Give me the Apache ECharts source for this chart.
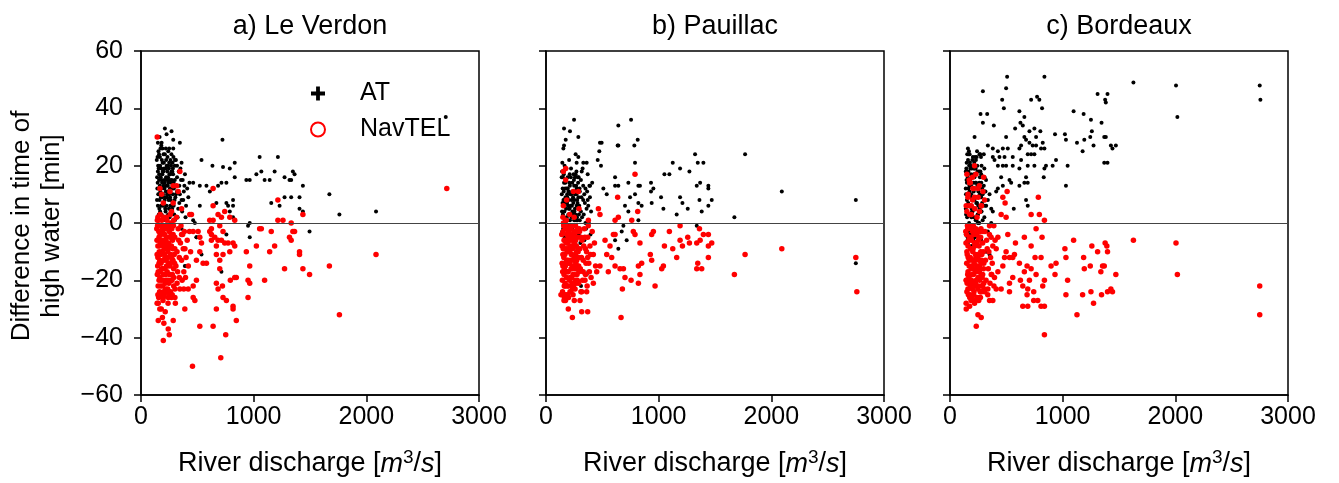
<!DOCTYPE html>
<html>
<head>
<meta charset="utf-8">
<script src="https://cdn.jsdelivr.net/npm/echarts@6.0.0/dist/echarts.min.js"></script>
<style>
html, body { margin: 0; padding: 0; background: #fff; }
#chart { width: 1339px; height: 483px; }
</style>
</head>
<body>
<div id="chart"></div>
<script>
// panel titles and axis ticks
var panelTitles = ['a) Le Verdon', 'b) Pauillac', 'c) Bordeaux'];
var xTicks = [0, 1000, 2000, 3000];
var yTicks = [-60, -40, -20, 0, 20, 40, 60];

// [river discharge m3/s, difference in time of high water min]
var atVerdon = [
  [212,33],[271,32],[227,31],[723,29],[286,29],[183,28],[345,28],[286,26],[250,26],[160,24],[1053,23],[1215,23],[537,22],[832,21],[301,22],
  [634,20],[728,19.5],[788,19],[1024,17],[1068,18],[1186,18],[1274,16],[1348,18],[1363,17],[935,15],[965,15],[1097,15],[1142,15],[1318,15],
  [1333,15],[832,16],[463,14],[522,13],[581,13],[611,11],[684,13],[714,14],[758,14],[1437,13],[1672,10],[1274,9],[1333,9],[1407,9],[1156,7],
  [1230,6],[1761,3],[2086,4],[1437,4],[1407,5],[522,6],[669,7],[758,7],[817,8],[773,6],[817,6],[788,4],[965,0],[950,-1],[1496,-3],[965,-5],
  [758,-4],[817,2],[463,1],[478,0],[492,-5],[537,-11],[714,-17],[404,-15],[198,-26],[2705,37],[360,-2],[493,-5],[389,-15],
  [140,22],[150,18],[160,15],[170,20],[180,12],[190,17],[200,24],[210,14],[220,19],[230,9],[240,16],[250,21],[260,11],[270,18],[280,7],
  [290,14],[300,20],[310,10],[320,16],[330,5],[340,13],[350,19],[360,8],[370,15],[380,11],[390,17],[400,6],[410,12],[420,9],[430,14],
  [145,12],[155,25],[165,8],[175,16],[185,22],[195,10],[205,19],[215,5],[225,13],[235,23],[245,8],[255,15],[265,4],[275,12],[285,17],
  [295,3],[305,9],[315,13],[325,2],[335,18],[345,10],[355,15],[365,4],[375,8],[385,13],[395,2],
  [150,6],[160,10],[170,4],[180,19],[190,26],[200,2],[210,8],[220,26],[230,15],[240,3],[250,10],[260,17],[270,24],[280,13],[290,6],
  [300,15],[310,22],[320,11],[340,7],[360,21],[150,28],[165,30],[180,27],[200,13],[220,11],[240,20],[260,6],[280,21],[300,1],[320,20],
  [142,8],[148,14],[152,20],[158,3],[162,17],[168,23],[172,11],[178,6],[182,15],[188,9],[192,21],[198,18],[202,7],[208,12],[212,24],
  [218,4],[222,16],[228,20],[232,10],[238,13],[242,25],[248,5],[252,17],[258,9],[262,22],[268,14],[272,3],[278,18],[282,10],[288,23],
  [292,12],[298,8],[143,16],[147,23],[153,10],[157,19],[163,5],[167,13],[173,26],[177,9],[183,3],[187,14],[193,18],[197,6],[203,21],
  [207,15],[213,9],[217,1],[223,22],[227,6],[233,18],[237,11],[243,14],[247,19],[253,2],[257,12],[263,8],[267,20],[273,15],[277,5],[283,19]
];
var navVerdon = [
  [2714,12],[2086,-11],[1761,-32],[1672,-15],[1437,-16],[1496,-18],[1274,-16],[1407,-10],[1407,-11],[1363,-3],[1348,-3],[1333,0],[1318,-5],
  [1333,-6],[1215,8],[1215,1],[1260,1],[1437,3],[1156,-3],[1186,-8],[1142,-10],[1024,-8],[935,-10],[1053,-2],[1068,-2],[965,-15],[950,-20],
  [965,-21],[1097,-20],[950,-26],[846,-19],[817,-29],[817,-30],[846,-34],[752,-39],[708,-47],[669,-30],[640,-36],[522,-36],[457,-50],[389,-30],
  [286,-34],[242,-37],[251,-39],[198,-41],[153,-34],[203,-35],[153,-28],[198,-26],[463,-26],[478,-27],[419,-23],[463,-22],[492,-20],[301,-23],
  [301,-26],[242,-26],[699,-16],[669,-21],[684,-23],[723,-22],[728,-26],[758,-27],[793,-20],[832,-19],[610,-3],[625,-4],[625,-6],[655,-5],
  [669,-11],[684,-6],[714,-6],[743,-7],[773,-7],[788,-10],[817,-7],[832,-8],[728,-11],[699,-13],[669,-8],[625,-2],[610,1],[640,1],[714,2],
  [743,4],[788,2],[832,1],[699,-1],[728,-3],[684,3],[640,6],[640,12],[433,3],[448,3],[463,-3],[507,-3],[522,-5],[537,-7],[522,-10],[492,-13],
  [581,-14],[551,-14],[345,18],[168,12],[183,10],[257,11],[330,11],[286,13],[316,13],[198,7],[286,7],[271,4],[360,5],[144,30],
  [140,-2],[150,-8],[160,-14],[170,-4],[180,-20],[190,-10],[200,-1],[210,-16],[220,-6],[230,-24],[240,-12],[250,-3],[260,-18],[270,-8],
  [280,-13],[290,-22],[300,-5],[310,-15],[320,-10],[330,-2],[340,-19],[350,-7],[360,-13],[370,-4],[380,-17],[390,-9],[400,-12],[410,-6],
  [420,-15],[430,-3],[440,-10],[145,-18],[155,1],[165,-24],[175,-11],[185,-6],[195,-27],[205,-9],[215,-21],[225,-2],[235,-15],[245,-7],
  [255,-25],[265,-1],[275,-20],[285,-4],[295,-11],[305,-28],[315,2],[325,-17],[335,-6],[345,-23],[355,-1],[365,-20],[375,-9],[385,-3],
  [395,-19],[150,-12],[160,-5],[170,-17],[180,-1],[190,-22],[200,-13],[210,-4],[220,-18],[230,-8],[240,-20],[250,-14],[260,-2],[270,-26],
  [280,-6],[290,-16],[300,-9],[320,-21],[340,-12],[360,-4],[380,-23],[150,2],[170,3],[200,2],[230,1],[260,3],[290,1],[160,-20],[200,-24],
  [240,-28],[180,-30],[150,-25],
  [142,-6],[148,-15],[152,-22],[158,-3],[162,-10],[168,-19],[172,-7],[178,-14],[182,-25],[188,-2],[192,-16],[198,-8],[202,-20],[208,-11],
  [212,-1],[218,-23],[222,-13],[228,-5],[232,-17],[238,-10],[242,-2],[248,-21],[252,-8],[258,-15],[262,-24],[268,-4],[272,-12],[278,-18],
  [282,-9],[288,-1],[292,-19],[298,-14],[143,-11],[147,-1],[153,-17],[157,-26],[163,-8],[167,-13],[173,-22],[177,-4],[183,-16],[187,-10],
  [193,-3],[197,-18],[203,-6],[207,-25],[213,-12],[217,-7],[223,-20],[227,-15],[233,-1],[237,-23],[243,-9],[247,-14],[253,-18],[257,-5],
  [263,-11],[267,-20],[273,-2],[277,-25],[283,-13],[143,-28],[167,-30],[190,-33],[215,-31],[145,1],[185,1],[225,2],[265,0]
];
var atPauillac = [
  [249,36],[755,36],[160,33],[213,32],[642,34],[287,30],[814,29],[784,27],[642,27],[175,29],[160,27],[154,26],[479,28],[494,28],[473,25],
  [263,24],[287,23],[1767,24],[1323,24],[459,22],[488,20],[272,21],[331,21],[361,21],[145,21],[790,21],[1125,21],[1347,21],[1397,21],
  [1190,19],[1273,18],[1051,17],[1095,17],[317,18],[613,16],[257,16],[139,16],[932,14],[953,12],[932,11],[1338,13],[1368,14],[1441,13],
  [1441,12],[2093,11],[2750,8],[1190,9],[1211,7],[1258,5],[1362,8],[1471,8],[1441,6],[1382,4],[1021,9],[938,7],[1042,5],[1160,3],[1672,2],
  [1338,-1],[2750,-14],[636,27],[391,13],[509,12],[539,10],[613,13],[642,13],[731,14],[746,9],[790,10],[820,13],[834,13],[701,6],[820,7],
  [849,6],[731,4],[820,1],[687,-1],[672,-3],[716,-6],[642,-9],[613,-6],[311,-22],[376,-17],[361,-18],
  [140,10],[150,3],[160,14],[170,7],[180,19],[190,1],[200,11],[210,5],[220,16],[230,-2],[240,9],[250,13],[260,3],[270,18],[280,7],
  [290,-4],[300,11],[310,15],[320,2],[330,8],[340,-6],[350,12],[360,5],[370,17],[380,0],[390,9],[400,4],[410,14],
  [145,-3],[155,8],[165,20],[175,0],[185,12],[195,6],[205,22],[215,-5],[225,10],[235,4],[245,17],[255,-1],[265,11],[275,2],[285,14],
  [295,6],[305,-7],[315,9],[325,19],[335,3],[345,7],[355,-2],[365,11],[375,6],[385,13],[395,-4],
  [150,16],[170,12],[190,9],[210,17],[230,6],[250,1],[270,10],[290,16],[310,4],[330,13],[350,0],[370,8],[150,-8],[180,-6],[220,-9],
  [260,-7],[300,1],[340,10],
  [142,4],[148,12],[152,-2],[158,17],[162,8],[168,1],[172,14],[178,5],[182,-4],[188,10],[192,16],[198,3],[202,8],[208,-1],[212,13],
  [218,6],[222,19],[228,2],[232,11],[238,-6],[242,7],[248,15],[252,4],[258,10],[262,-3],[268,13],[272,6],[278,1],[282,16],[288,9],
  [292,3],[298,12],[143,18],[147,7],[153,0],[157,11],[163,4],[167,-5],[173,9],[177,15],[183,2],[187,7],[193,12],[197,-2],[203,5],
  [207,14],[213,1],[217,10],[223,-4],[227,8],[233,14],[237,3],[243,11],[247,-1],[253,8],[257,5],[263,17],[267,1],[273,12],[277,8]
];
var navPauillac = [
  [2759,-24],[2750,-12],[2093,-9],[1767,-11],[1672,-18],[1441,-4],[1471,-7],[1441,-8],[1441,-12],[1397,-4],[1362,-2],[1368,-6],[1338,-7],
  [1347,-14],[1338,-16],[1382,-16],[1258,-5],[1273,-7],[1190,-6],[1211,-8],[1160,-12],[1125,-9],[1095,-3],[1190,-1],[1051,-8],[1027,-16],
  [1042,-15],[968,-22],[938,-13],[926,-11],[953,-3],[938,-4],[849,-14],[820,-15],[834,-18],[820,-21],[755,-20],[701,-19],[678,-23],[666,-33],
  [687,-16],[657,-16],[613,-15],[583,-12],[568,-8],[613,-4],[598,-4],[775,-3],[790,-4],[834,-7],[790,17],[636,9],[814,4],[761,1],[613,1],
  [642,2],[287,11],[293,5],[376,1],[465,5],[479,3],[175,19],[154,18],[175,15],[243,11],[183,8],[154,6],[524,-6],[539,-11],[479,-15],
  [553,-17],[450,-17],[420,-21],[346,-20],[317,-24],[361,-24],[370,-31],[317,-31],[234,-33],[198,-30],[251,-27],[302,-27],[163,-26],
  [133,-25],[169,-22],
  [140,-4],[150,-11],[160,-18],[170,-2],[180,-14],[190,-7],[200,-22],[210,-10],[220,-1],[230,-16],[240,-5],[250,-12],[260,-20],[270,-8],
  [280,-3],[290,-15],[300,-9],[310,-24],[320,-6],[330,-13],[340,-2],[350,-18],[360,-10],[370,-5],[380,-14],[390,-8],[400,-19],[410,-3],
  [420,-11],[430,-7],[440,-15],[145,-20],[155,0],[165,-9],[175,-25],[185,-4],[195,-13],[205,-6],[215,-19],[225,-11],[235,-23],[245,-1],
  [255,-8],[265,-14],[275,-18],[285,-10],[295,-2],[305,-16],[315,-12],[325,-20],[335,-8],[345,-5],[355,-14],[365,-22],[375,-1],[385,-17],
  [395,-11],[150,-15],[160,-6],[170,-21],[180,-9],[190,-17],[200,-3],[210,-14],[220,-24],[230,-8],[240,-18],[250,-4],[260,-11],[270,-16],
  [290,-21],[310,-5],[330,-17],[350,-9],[370,-12],[150,2],[180,1],[210,3],[250,2],[160,-27],[200,-26],[240,-25],
  [142,-8],[148,-17],[152,-3],[158,-12],[162,-22],[168,-6],[172,-15],[178,-1],[182,-19],[188,-10],[192,-25],[198,-5],[202,-14],[208,-20],
  [212,-8],[218,-2],[222,-16],[228,-11],[232,-21],[238,-4],[242,-13],[248,-18],[252,-7],[258,-23],[262,-1],[268,-15],[272,-10],[278,-20],
  [282,-5],[288,-12],[292,-17],[298,-3],[143,-14],[147,-24],[153,-9],[157,-1],[163,-16],[167,-11],[173,-27],[177,-7],[183,-13],[187,-22],
  [193,-2],[197,-17],[203,-9],[207,-4],[213,-24],[217,-13],[223,-6],[227,-19],[233,-15],[237,-9],[243,-22],[247,-3],[253,-12],[257,-16],
  [263,-6],[267,-21],[273,-13],[277,-2],[283,-9]
];
var atBordeaux = [
  [507,51],[838,51],[1628,49],[2006,48],[2749,48],[292,46],[498,47],[1310,45],[1398,45],[1377,43],[1383,42],[463,43],[720,43],[773,44],
  [793,43],[2755,43],[2018,37],[478,40],[616,39],[817,40],[271,38],[330,38],[292,35],[389,34],[1097,39],[1186,38],[1251,36],[1345,35],
  [660,37],[625,35],[646,34],[578,33],[705,32],[749,33],[802,32],[764,30],[932,31],[1020,31],[1029,29],[1127,28],[1192,29],[1245,30],
  [1259,32],[1369,30],[1383,30],[1274,27],[1177,25],[1428,27],[1472,27],[1442,26],[218,30],[498,30],[660,30],[675,29],[705,28],[823,28],
  [808,26],[838,26],[734,27],[764,27],[616,26],[631,27],[159,26],[174,24],[262,24],[336,27],[380,26],[425,25],[469,26],[513,26],[380,23],
  [395,22],[439,23],[484,23],[557,23],[631,22],[690,24],[720,24],[749,24],[941,22],[911,20],[1044,20],[852,20],[838,19],[832,16],[1029,13],
  [1369,21],[1398,21],[425,20],[469,20],[498,20],[557,20],[616,19],[690,20],[749,20],[140,18],[183,20],[218,19],[277,17],[307,16],[454,16],
  [528,15],[543,14],[616,13],[660,14],[675,16],[690,14],[469,13],[425,12],[410,11],[675,8],[690,6],[566,5],[366,5],[380,4],[277,9],[307,11],
  [351,10],[336,8],[321,6],[277,4],[248,3],[366,0],[336,-3],[277,-6],[321,-10],[351,-11],[248,-11],[218,-8],[159,-7],
  [140,5],[150,14],[160,-3],[170,20],[180,9],[190,2],[200,16],[210,11],[220,-5],[230,22],[240,7],[250,13],[260,0],[270,18],[280,4],
  [290,10],[300,24],[310,6],[320,15],[145,19],[155,-6],[165,12],[175,3],[185,17],[195,-1],[205,8],[215,21],[225,14],[235,1],[245,18],
  [255,-8],[265,10],[275,23],[285,7],[295,16],[305,2],[315,11],[150,8],[160,22],[170,0],[180,15],[190,-8],[200,4],[210,19],[220,12],
  [230,-4],[240,25],[250,6],[260,14],[270,-2],[280,20],[290,1],[300,13],[150,-1],[165,24],[185,6],[205,-4],[225,9],[245,3],[265,16],
  [285,12],[305,19],[140,12],[140,-4],
  [142,10],[148,21],[152,2],[158,16],[162,7],[168,25],[172,13],[178,-2],[182,19],[188,10],[192,5],[198,22],[202,12],[208,-6],[212,17],
  [218,8],[222,23],[228,1],[232,14],[238,9],[242,20],[248,-3],[252,11],[258,18],[262,5],[268,24],[272,9],[278,14],[143,3],[147,15],
  [153,24],[157,-5],[163,18],[167,6],[173,11],[177,21],[183,-4],[187,13],[193,19],[197,4],[203,23],[207,14],[213,2],[217,16],[223,-2],
  [227,19],[233,7],[237,23],[243,13],[247,0]
];
var navBordeaux = [
  [2749,-22],[2749,-32],[2006,-7],[2018,-18],[1628,-6],[1377,-7],[1392,-8],[1398,-10],[1310,-10],[1259,-8],[1369,-15],[1354,-15],[1339,-17],
  [1472,-18],[1442,-24],[1428,-23],[1398,-24],[1345,-25],[1274,-28],[1251,-24],[1177,-25],[1192,-16],[1186,-12],[1245,-15],[1097,-6],
  [1020,-9],[1029,-12],[1044,-20],[1029,-25],[1127,-32],[941,-14],[932,-18],[897,-15],[838,-39],[838,-20],[823,-22],[808,-12],[755,-12],
  [764,-18],[720,-16],[705,-20],[690,-23],[646,-22],[625,-20],[646,-29],[690,-29],[743,-27],[779,-27],[808,-29],[838,-29],[743,-24],
  [684,-25],[684,-15],[660,-17],[616,-14],[572,-11],[557,-19],[528,-21],[528,-24],[454,-23],[410,-23],[351,-27],[380,-27],[336,-23],
  [660,-5],[720,-8],[764,-2],[817,-5],[581,-7],[513,-4],[425,-5],[410,-9],[498,-10],[484,-12],[528,-12],[557,-12],[469,-15],[425,-17],
  [395,-19],[366,-18],[838,1],[793,3],[720,3],[784,9],[454,3],[498,2],[489,7],[507,11],[469,9],[389,-1],[351,-1],[218,20],[298,16],
  [174,14],[203,12],[248,12],[292,11],[159,9],[218,9],[144,6],[189,6],[277,6],[307,8],[262,4],[174,3],[144,-30],[174,-29],[218,-28],
  [248,-32],[277,-33],[233,-36],[189,-26],[262,-26],[159,-23],[189,-21],[144,-20],[277,-22],[307,-24],
  [140,-3],[150,-10],[160,-17],[170,-1],[180,-22],[190,-6],[200,-13],[210,-25],[220,-8],[230,-2],[240,-15],[250,-19],[260,-5],[270,-11],
  [280,-24],[290,-7],[300,-14],[310,-3],[320,-20],[330,-9],[340,-16],[350,-4],[360,-12],[370,-18],[380,-8],[390,-22],[400,-6],
  [145,-20],[155,-1],[165,-12],[175,-26],[185,-5],[195,-18],[205,-9],[215,-14],[225,-21],[235,-4],[245,-11],[255,-27],[265,-16],[275,-2],
  [285,-19],[295,-10],[305,-23],[315,-13],[325,-6],[335,-25],[345,-10],[355,-21],[365,-5],[375,-14],
  [150,-24],[160,-8],[170,-15],[180,-12],[190,-20],[200,-3],[210,-16],[220,-27],[230,-12],[240,-7],[250,-22],[260,-17],[270,-26],
  [280,-13],[290,-18],[300,-21],[150,4],[160,10],[170,6],[180,14],[190,3],[200,8],[210,12],[220,5],[230,17],[240,2],[250,9],[260,13],
  [280,6],[150,17],[170,15],[200,16],
  [142,-7],[148,-14],[152,-21],[158,-2],[162,-12],[168,-19],[172,-5],[178,-25],[182,-9],[188,-16],[192,-1],[198,-23],[202,-10],[208,-18],
  [212,-4],[218,-13],[222,-22],[228,-7],[232,-17],[238,-26],[242,-3],[248,-12],[252,-19],[258,-8],[262,-15],[268,-24],[272,-5],[278,-18],
  [282,-11],[288,-22],[292,-3],[298,-16],[143,-28],[147,-4],[153,-11],[157,-18],[163,-25],[167,-6],[173,-13],[177,-20],[183,-2],[187,-27],
  [193,-9],[197,-15],[203,-21],[207,-1],[213,-24],[217,-7],[223,-17],[227,-11],[233,-20],[237,-4],[243,-16],[247,-23],[253,-6],[257,-13],
  [263,-20],[267,-3],[273,-10],[277,-14]
];

var atData = [atVerdon, atPauillac, atBordeaux];
var navData = [navVerdon, navPauillac, navBordeaux];

var F = 'Liberation Sans';
var gridLefts = [141, 546, 950];
var gridTop = 51, gridW = 338, gridH = 344;

var chart = echarts.init(document.getElementById('chart'));

var grids = [], xAxes = [], yAxes = [], series = [], graphics = [];
for (var i = 0; i < 3; i++) {
  grids.push({left: gridLefts[i], top: gridTop, width: gridW, height: gridH,
    show: true, borderColor: '#000', borderWidth: 1.5, backgroundColor: 'transparent'});
  xAxes.push({
    gridIndex: i, type: 'value',
    min: xTicks[0], max: xTicks[xTicks.length - 1], interval: 1000,
    axisLine: {show: true, onZero: false, lineStyle: {color: '#000', width: 1.5}},
    axisTick: {show: true, length: 7, lineStyle: {color: '#000', width: 1.5}},
    axisLabel: {color: '#000', fontSize: 25, fontFamily: F, margin: 10,
      formatter: function (v) { return String(v); }},
    splitLine: {show: false},
    name: '{a|River discharge [}{i|m}{s|3}{a|/}{i|s}{a|]}',
    nameLocation: 'middle', nameGap: 53,
    nameTextStyle: {
      color: '#000', fontFamily: F, fontSize: 27,
      rich: {
        a: {fontSize: 27, fontFamily: F, color: '#000', lineHeight: 32},
        i: {fontSize: 27, fontFamily: F, color: '#000', fontStyle: 'italic', lineHeight: 32},
        s: {fontSize: 19, fontFamily: F, color: '#000', verticalAlign: 'top', lineHeight: 19}
      }
    }
  });
  yAxes.push({
    gridIndex: i, type: 'value',
    min: yTicks[0], max: yTicks[yTicks.length - 1], interval: 20,
    axisLine: {show: true, onZero: false, lineStyle: {color: '#000', width: 1.5}},
    axisTick: {show: true, length: 7, lineStyle: {color: '#000', width: 1.5}},
    axisLabel: {show: i === 0, color: '#000', fontSize: 25, fontFamily: F, margin: 18,
      formatter: function (v) { return v < 0 ? '\u2212' + (-v) : String(v); }},
    splitLine: {show: false}
  });
  series.push({
    type: 'scatter', name: 'AT', xAxisIndex: i, yAxisIndex: i,
    data: atData[i], symbol: 'circle', symbolSize: 4,
    itemStyle: {color: '#000', opacity: 1}, silent: true, z: 2
  });
  series.push({
    type: 'scatter', name: 'NavTEL', xAxisIndex: i, yAxisIndex: i,
    data: navData[i], symbol: 'circle', symbolSize: 5.5,
    itemStyle: {color: '#ff0000', opacity: 1}, silent: true, z: 3,
    markLine: {
      silent: true, symbol: 'none', label: {show: false},
      lineStyle: {color: '#444', width: 1.2, type: 'solid'},
      data: [{yAxis: 0}]
    }
  });
  graphics.push({
    type: 'text', x: gridLefts[i] + gridW / 2, y: 27,
    style: {text: panelTitles[i], font: '27px "' + F + '"', fill: '#000',
      textAlign: 'center', textVerticalAlign: 'middle'}
  });
}

graphics.push({
  type: 'text', x: 37, y: 226, rotation: Math.PI / 2,
  style: {text: 'Difference in time of\nhigh water [min]', font: '26px "' + F + '"',
    fill: '#000', textAlign: 'center', textVerticalAlign: 'middle', lineHeight: 30}
});

chart.setOption({
  animation: false,
  backgroundColor: '#fff',
  grid: grids,
  xAxis: xAxes,
  yAxis: yAxes,
  legend: {
    left: 305, top: 76, orient: 'vertical', itemGap: 11,
    itemWidth: 14, itemHeight: 14, selectedMode: false,
    textStyle: {fontSize: 25, fontFamily: F, color: '#000', padding: [0, 0, 0, 30]},
    data: [
      {name: 'AT', icon: 'path://M4,0H7V4H11V7H7V11H4V7H0V4H4Z', itemStyle: {color: '#000'}},
      {name: 'NavTEL', icon: 'circle', itemStyle: {color: '#fff', borderColor: '#ff0000', borderWidth: 2}}
    ]
  },
  graphic: graphics,
  series: series
});
</script>
</body>
</html>
